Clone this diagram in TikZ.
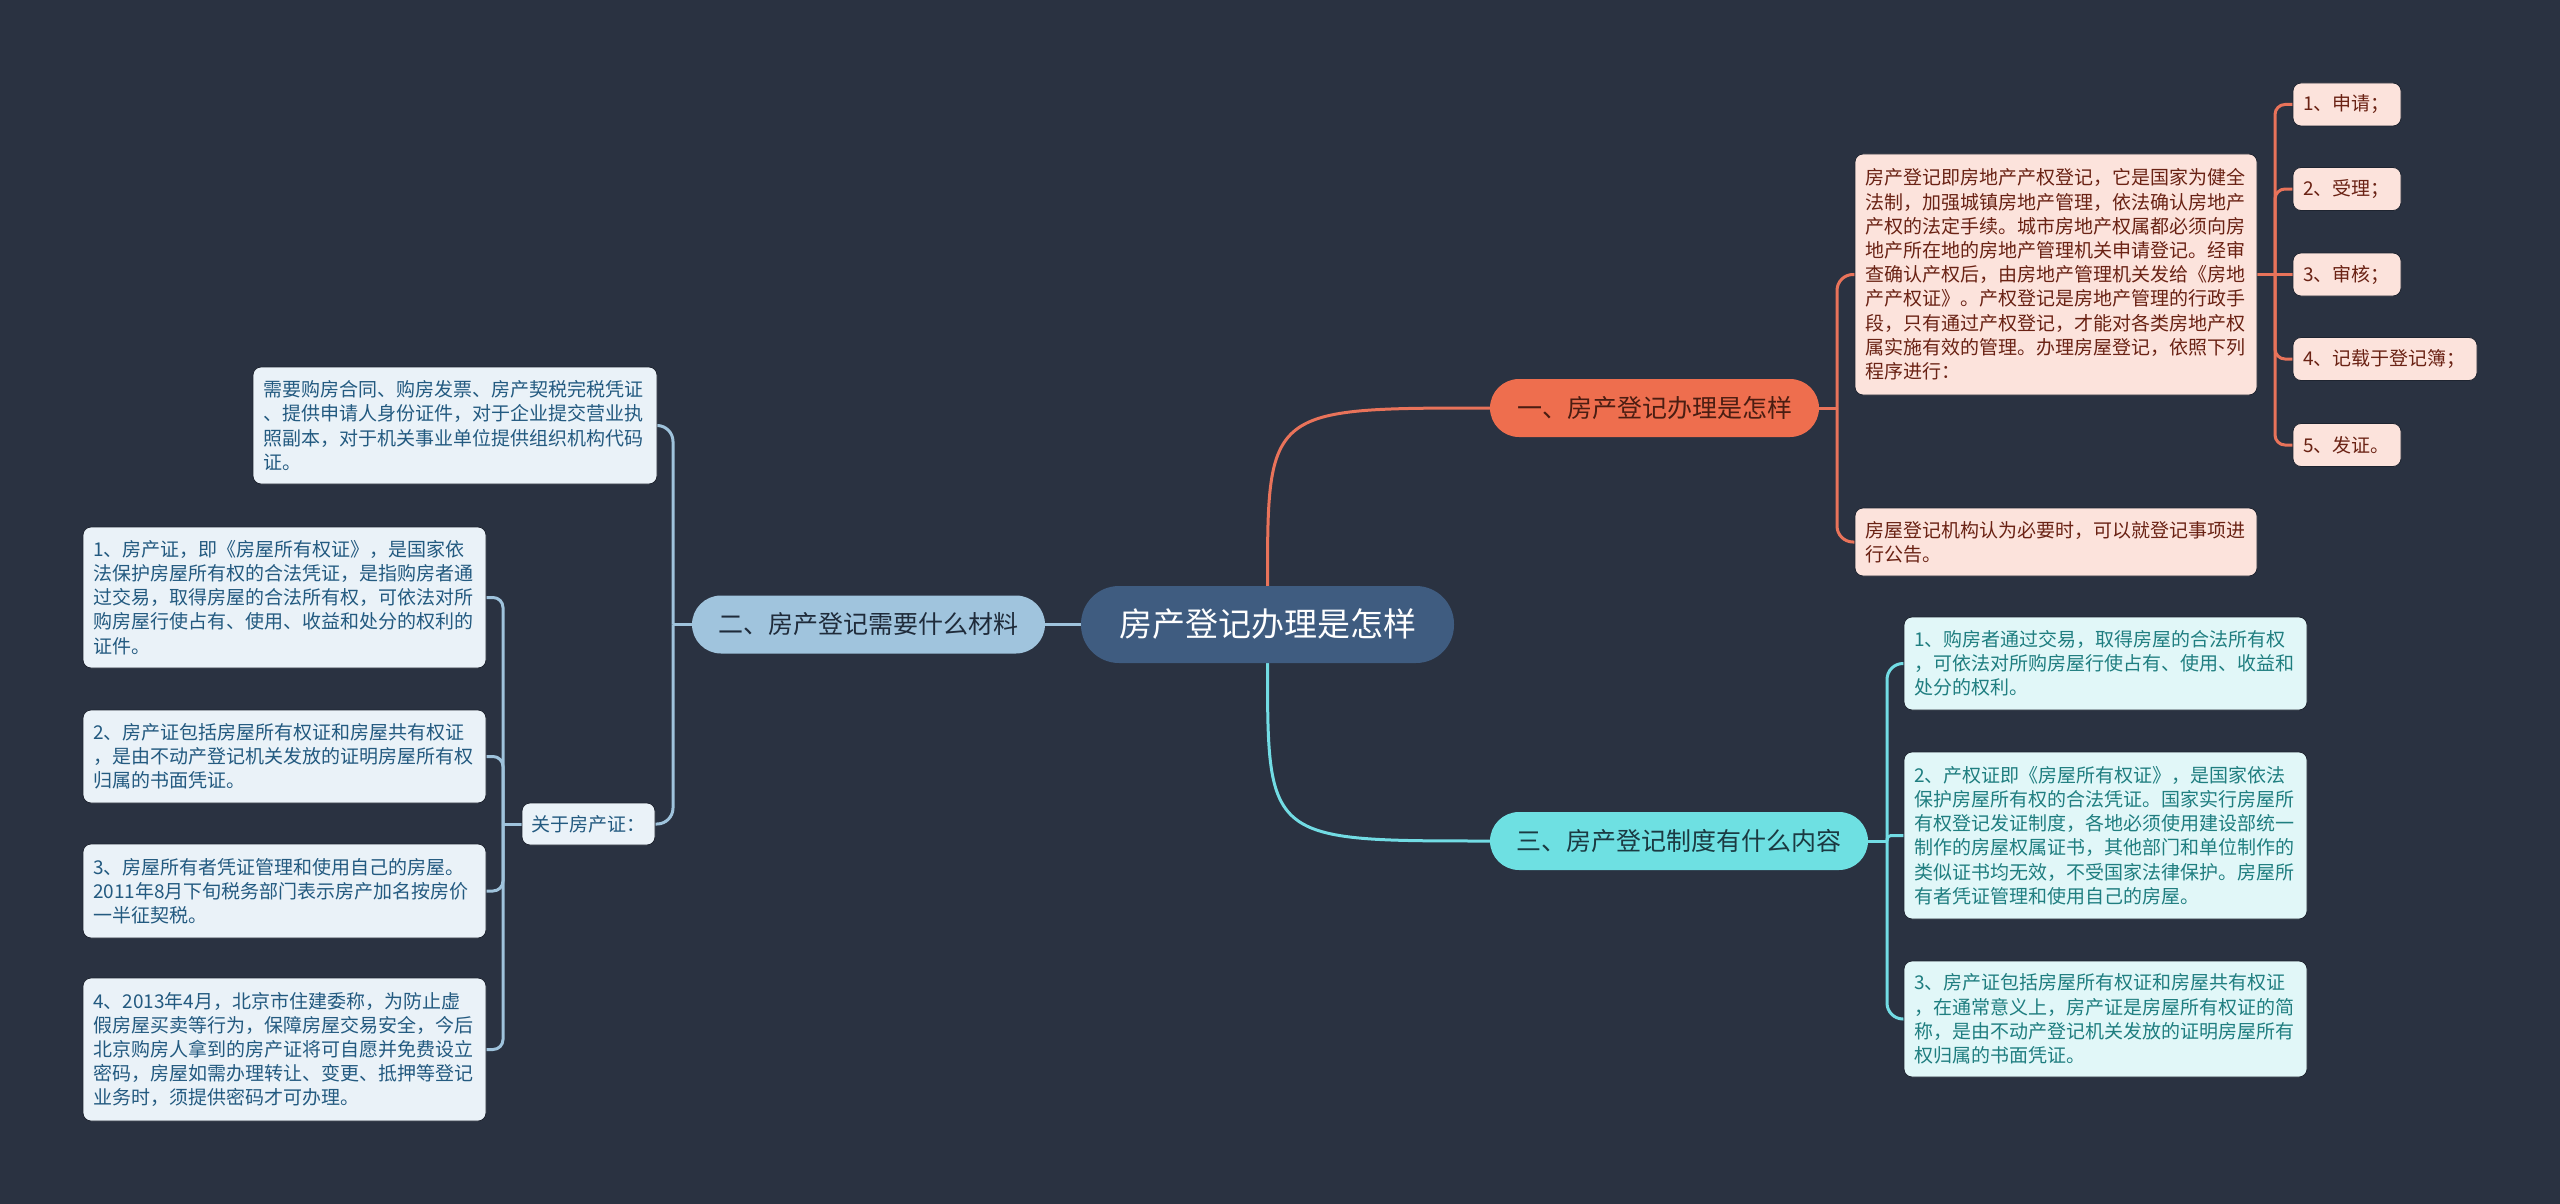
\documentclass[tikz,border=0pt]{standalone}
\usepackage{fontspec}
\newfontfamily\cjk{Noto Sans CJK SC}
\definecolor{bg}{HTML}{2A3241}
\definecolor{cfill}{HTML}{3F5C80}
\definecolor{ofill}{HTML}{EE6E4E}
\definecolor{otext}{HTML}{4A1D12}
\definecolor{oline}{HTML}{E9735A}
\definecolor{obox}{HTML}{FCE3DC}
\definecolor{oboxtext}{HTML}{6A2214}
\definecolor{bfill}{HTML}{A0C4DD}
\definecolor{btext}{HTML}{1F2B3A}
\definecolor{bline}{HTML}{9FC3DC}
\definecolor{bbox}{HTML}{EAF2F8}
\definecolor{bboxtext}{HTML}{235A80}
\definecolor{tfill}{HTML}{6EE0E2}
\definecolor{ttext}{HTML}{1B3A42}
\definecolor{tline}{HTML}{72DCE4}
\definecolor{tbox}{HTML}{E1F7F8}
\definecolor{tboxtext}{HTML}{1F7E80}
\definecolor{edge}{HTML}{1E2430}
\pgfdeclarelayer{bgl}
\pgfdeclarelayer{lines}
\pgfsetlayers{bgl,lines,main}
\begin{document}
\begin{tikzpicture}[x=1pt,y=-1pt,
  textbox/.style={rounded corners=8pt, draw=edge, line width=0.8pt, inner xsep=10pt, inner ysep=0pt, align=left,
    font=\cjk\fontsize{19}{24.2}\selectfont},
  obx/.style={textbox, fill=obox, text=oboxtext},
  bbx/.style={textbox, fill=bbox, text=bboxtext},
  tbx/.style={textbox, fill=tbox, text=tboxtext},
  branch/.style={rounded corners=29pt, inner sep=0pt, minimum height=58pt, font=\cjk\fontsize{25}{30}\selectfont},
  conn/.style={line width=3pt, rounded corners=12pt},
  oln/.style={conn, draw=oline},
  bln/.style={conn, draw=bline},
  tln/.style={conn, draw=tline}
]
\begin{pgfonlayer}{bgl}
\fill[bg] (0,0) rectangle (2560,1204);
\end{pgfonlayer}
\useasboundingbox (0,0) rectangle (2560,1204);

% central
\node[fill=cfill, rounded corners=38pt, minimum width=373pt, minimum height=77pt, inner sep=0pt,
  text=white, font=\cjk\fontsize{33}{38}\selectfont] (c) at (1267.5,624.5) {房产登记办理是怎样};

% branches
\node[branch, fill=ofill, text=otext, minimum width=329pt] (b1) at (1654.5,408) {一、房产登记办理是怎样};
\node[branch, fill=bfill, text=btext, minimum width=353pt] (b2) at (868.5,624.5) {二、房产登记需要什么材料};
\node[branch, fill=tfill, text=ttext, minimum width=378pt] (b3) at (1679,841) {三、房产登记制度有什么内容};

% branch 1 children
\node[obx, text width=382pt, minimum height=241pt] (a1) at (2056,274.5) {房产登记即房地产产权登记，它是国家为健全\\法制，加强城镇房地产管理，依法确认房地产\\产权的法定手续。城市房地产权属都必须向房\\地产所在地的房地产管理机关申请登记。经审\\查确认产权后，由房地产管理机关发给《房地\\产产权证》。产权登记是房地产管理的行政手\\段，只有通过产权登记，才能对各类房地产权\\属实施有效的管理。办理房屋登记，依照下列\\程序进行：};
\node[obx, text width=382pt, minimum height=68pt] (a2) at (2056,542) {房屋登记机构认为必要时，可以就登记事项进\\行公告。};

\node[obx, text width=88pt, minimum height=43pt] (n1) at (2347,104.5) {1、申请；};
\node[obx, text width=88pt, minimum height=43pt] (n2) at (2347,189) {2、受理；};
\node[obx, text width=88pt, minimum height=43pt] (n3) at (2347,274.5) {3、审核；};
\node[obx, text width=164pt, minimum height=43pt] (n4) at (2385,359) {4、记载于登记簿；};
\node[obx, text width=88pt, minimum height=43pt] (n5) at (2347,445) {5、发证。};

% branch 3 children
\node[tbx, text width=383pt, minimum height=93pt] (t1) at (2105.5,663.5) {1、购房者通过交易，取得房屋的合法所有权\\，可依法对所购房屋行使占有、使用、收益和\\处分的权利。};
\node[tbx, text width=383pt, minimum height=167pt] (t2) at (2105.5,835.5) {2、产权证即《房屋所有权证》，是国家依法\\保护房屋所有权的合法凭证。国家实行房屋所\\有权登记发证制度，各地必须使用建设部统一\\制作的房屋权属证书，其他部门和单位制作的\\类似证书均无效，不受国家法律保护。房屋所\\有者凭证管理和使用自己的房屋。};
\node[tbx, text width=383pt, minimum height=116pt] (t3) at (2105.5,1019) {3、房产证包括房屋所有权证和房屋共有权证\\，在通常意义上，房产证是房屋所有权证的简\\称，是由不动产登记机关发放的证明房屋所有\\权归属的书面凭证。};

% branch 2 children
\node[bbx, text width=384pt, minimum height=117pt] (m1) at (455,425.5) {需要购房合同、购房发票、房产契税完税凭证\\、提供申请人身份证件，对于企业提交营业执\\照副本，对于机关事业单位提供组织机构代码\\证。};
\node[bbx, text width=115pt, inner xsep=9pt, minimum height=42pt] (m2) at (588.5,824) {关于房产证：};

\node[bbx, text width=383pt, minimum height=141pt] (p1) at (284.5,597.5) {1、房产证，即《房屋所有权证》，是国家依\\法保护房屋所有权的合法凭证，是指购房者通\\过交易，取得房屋的合法所有权，可依法对所\\购房屋行使占有、使用、收益和处分的权利的\\证件。};
\node[bbx, text width=383pt, minimum height=93pt] (p2) at (284.5,756.5) {2、房产证包括房屋所有权证和房屋共有权证\\，是由不动产登记机关发放的证明房屋所有权\\归属的书面凭证。};
\node[bbx, text width=383pt, minimum height=94pt] (p3) at (284.5,891) {3、房屋所有者凭证管理和使用自己的房屋。\\2011年8月下旬税务部门表示房产加名按房价\\一半征契税。};
\node[bbx, text width=383pt, minimum height=143pt] (p4) at (284.5,1049.5) {4、2013年4月，北京市住建委称，为防止虚\\假房屋买卖等行为，保障房屋交易安全，今后\\北京购房人拿到的房产证将可自愿并免费设立\\密码，房屋如需办理转让、变更、抵押等登记\\业务时，须提供密码才可办理。};

% spine coordinates
\coordinate (s1) at (1837,408);
\coordinate (s1a) at (2275,274.5);
\coordinate (s3) at (1887,841);
\coordinate (s2) at (673,624.5);
\coordinate (s2e) at (503,824);

\begin{pgfonlayer}{lines}
% central to branches
\draw[line width=3pt, oline] (c.north) .. controls (c.north |- b1.west) .. (b1.west);
\draw[line width=3pt, tline] (c.south) .. controls (c.south |- b3.west) .. (b3.west);
\draw[line width=3pt, bline] (c.west) -- (b2.east);

% branch 1
\draw[oln] (b1.east) -- (s1);
\draw[oln, rounded corners=16pt] (s1) |- (a1.west);
\draw[oln, rounded corners=16pt] (s1) |- (a2.west);
\draw[oln] (a1.east) -- (s1a);
\foreach \n in {n1,n2,n4,n5} \draw[oln, rounded corners=10pt] (s1a) |- (\n.west);
\draw[oln] (s1a) -- (n3.west);

% branch 3
\draw[tln] (b3.east) -- (s3);
\draw[tln, rounded corners=16pt] (s3) |- (t1.west);
\draw[tln, rounded corners=4pt] (s3) |- (t2.west);
\draw[tln, rounded corners=16pt] (s3) |- (t3.west);

% branch 2
\draw[bln] (b2.west) -- (s2);
\draw[bln, rounded corners=16pt] (s2) |- (m1.east);
\draw[bln, rounded corners=16pt] (s2) |- (m2.east);
\draw[bln] (m2.west) -- (s2e);
\foreach \n in {p1,p2,p3,p4} \draw[bln, rounded corners=10pt] (s2e) |- (\n.east);
\end{pgfonlayer}
\end{tikzpicture}
\end{document}
